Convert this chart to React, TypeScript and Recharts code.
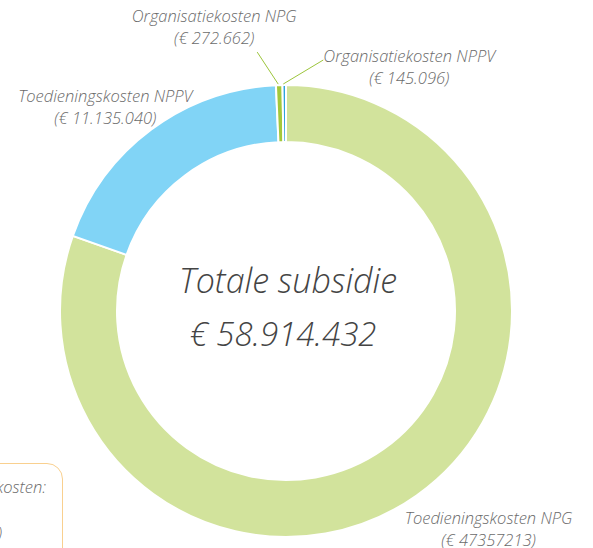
import { Pie, PieChart } from "recharts"

const NAMES = ["Toedieningskosten NPG", "Toedieningskosten NPPV", "Organisatiekosten NPG", "Organisatiekosten NPPV"]
const VALUES = [47357213, 11135040, 272662, 145096]
const AMOUNTS = ["(€ 47357213)", "(€ 11.135.040)", "(€ 272.662)", "(€ 145.096)"]
const COLORS = ["#d2e39c", "#81d4f6", "#a3c83b", "#2ea3dc"]
const TOTAL_LABEL = "Totale subsidie"
const TOTAL_AMOUNT = "€ 58.914.432"

// label offsets relative to the point on the outer arc
const LABEL_OFFSET = [
  { dx: 72, dy: 22, line: null },
  { dx: -46, dy: -34, line: null },
  { dx: -65, dy: -70, line: { dx: -22, dy: -33 } },
  { dx: 125, dy: -30, line: { dx: 39, dy: -25 } },
]

const data = NAMES.map((name, i) => ({ name, value: VALUES[i], amount: AMOUNTS[i], fill: COLORS[i] }))

const FONT = "'Open Sans', sans-serif"
const GREY = "#6b6b6b"

const RADIAN = Math.PI / 180

function renderLabel(props: any) {
  const { cx, cy, midAngle, outerRadius, index } = props
  const x0 = cx + outerRadius * Math.cos(-midAngle * RADIAN)
  const y0 = cy + outerRadius * Math.sin(-midAngle * RADIAN)
  const off = LABEL_OFFSET[index]
  const x = x0 + off.dx
  const y = y0 + off.dy
  const textStyle = { fontFamily: FONT, fontStyle: "italic", fontWeight: 300, fontSize: 16.5 }
  return (
    <g key={`lbl-${index}`}>
      {off.line && (
        <line x1={x0 - 1} y1={y0 - 1} x2={x0 + off.line.dx} y2={y0 + off.line.dy} stroke="#9cc53b" strokeWidth={1} />
      )}
      <text x={x} y={y} textAnchor="middle" dominantBaseline="central" fill={GREY} style={textStyle}>
        {NAMES[index]}
      </text>
      <text x={x} y={y + 22} textAnchor="middle" dominantBaseline="central" fill={GREY} style={textStyle}>
        {AMOUNTS[index]}
      </text>
    </g>
  )
}

export default function App() {
  return (
    <div style={{ position: "fixed", left: 0, top: 0, width: 593, height: 548, overflow: "hidden", background: "#fff" }}>
      <PieChart width={593} height={548} margin={{ top: 0, right: 0, bottom: 0, left: 0 }}>
        <Pie
          data={data}
          dataKey="value"
          nameKey="name"
          cx={286}
          cy={311}
          innerRadius={169}
          outerRadius={226}
          startAngle={90}
          endAngle={-270}
          stroke="#ffffff"
          strokeWidth={2}
          label={renderLabel}
          labelLine={false}
          isAnimationActive={false}
        />
        <text x={288} y={280} textAnchor="middle" dominantBaseline="central" fill="#444"
          style={{ fontFamily: FONT, fontStyle: "italic", fontWeight: 300, fontSize: 34 }}>
          {TOTAL_LABEL}
        </text>
        <text x={283} y={333} textAnchor="middle" dominantBaseline="central" fill="#444"
          style={{ fontFamily: FONT, fontStyle: "italic", fontWeight: 300, fontSize: 33 }}>
          {TOTAL_AMOUNT}
        </text>
      </PieChart>
      <div style={{
        position: "absolute", left: -150, top: 463, width: 213, height: 120,
        border: "1px solid #f9d08f", borderRadius: 16, boxSizing: "border-box",
        fontFamily: FONT, fontStyle: "italic", fontWeight: 300, fontSize: 16.5, color: GREY,
        textAlign: "right", paddingRight: 16, paddingTop: 12,
      }}>
        <div style={{ lineHeight: "22px" }}>Organisatiekosten:</div>
        <div style={{ lineHeight: "22px", marginTop: 24, paddingRight: 44 }}>(€ 417.760)</div>
      </div>
    </div>
  )
}
